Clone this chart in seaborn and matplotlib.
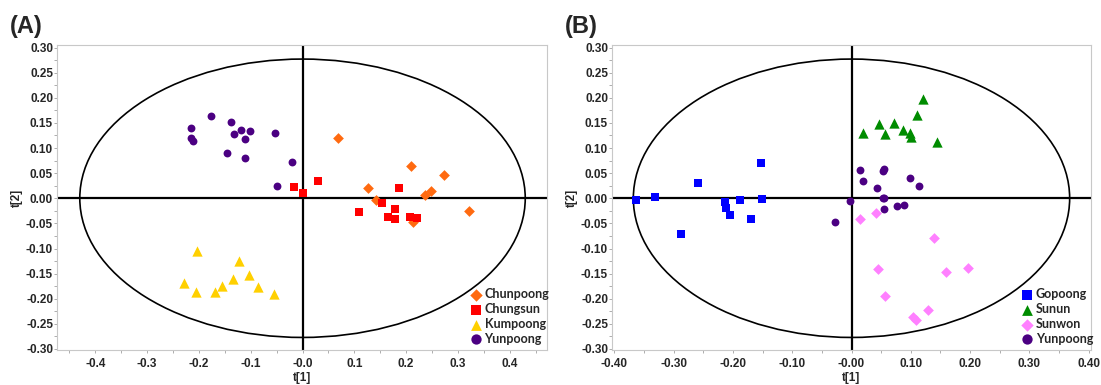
import pandas as pd
import numpy as np
import matplotlib
matplotlib.use("Agg")
import matplotlib.pyplot as plt
import seaborn as sns
from matplotlib.patches import Ellipse
from matplotlib.ticker import MultipleLocator, FixedLocator, FixedFormatter

# ---- panel A: scores t[1], t[2]
chunpoong_x = [0.069, 0.210, 0.274, 0.126, 0.142, 0.236, 0.249, 0.322, 0.214]
chunpoong_y = [0.120, 0.065, 0.046, 0.021, -0.004, 0.007, 0.015, -0.026, -0.047]

chungsun_x = [-0.016, 0.000, 0.029, 0.186, 0.153, 0.110, 0.179, 0.165, 0.178, 0.207, 0.221]
chungsun_y = [0.023, 0.011, 0.035, 0.021, -0.010, -0.027, -0.022, -0.038, -0.042, -0.037, -0.039]

kumpoong_x = [-0.203, -0.123, -0.228, -0.206, -0.168, -0.156, -0.134, -0.104, -0.085, -0.055]
kumpoong_y = [-0.104, -0.124, -0.168, -0.187, -0.186, -0.175, -0.161, -0.152, -0.177, -0.191]

yunpoong_a_x = [-0.176, -0.215, -0.215, -0.212, -0.138, -0.119, -0.101, -0.132, -0.111, -0.146,
                -0.111, -0.054, -0.020, -0.050]
yunpoong_a_y = [0.164, 0.139, 0.119, 0.113, 0.152, 0.136, 0.133, 0.127, 0.117, 0.091,
                0.080, 0.129, 0.072, 0.025]

# ---- panel B
gopoong_x = [-0.364, -0.332, -0.259, -0.288, -0.213, -0.211, -0.205, -0.188, -0.170, -0.153, -0.151]
gopoong_y = [-0.004, 0.003, 0.030, -0.071, -0.007, -0.020, -0.034, -0.003, -0.042, 0.070, -0.002]

sunun_x = [0.120, 0.111, 0.046, 0.072, 0.019, 0.057, 0.087, 0.099, 0.101, 0.144]
sunun_y = [0.198, 0.165, 0.148, 0.149, 0.129, 0.127, 0.136, 0.129, 0.122, 0.111]

sunwon_x = [0.015, 0.041, 0.140, 0.044, 0.159, 0.196, 0.057, 0.129, 0.104, 0.108]
sunwon_y = [-0.042, -0.029, -0.079, -0.140, -0.147, -0.139, -0.194, -0.222, -0.237, -0.242]

yunpoong_b_x = [0.014, 0.053, 0.055, 0.020, 0.099, 0.114, 0.043, 0.053, 0.055, -0.002,
                0.076, 0.088, 0.054, -0.028]
yunpoong_b_y = [0.057, 0.055, 0.059, 0.035, 0.040, 0.024, 0.020, 0.001, 0.001, -0.006,
                -0.015, -0.013, -0.022, -0.047]

y_ticks = [-0.30, -0.25, -0.20, -0.15, -0.10, -0.05, 0.00, 0.05, 0.10, 0.15, 0.20, 0.25, 0.30]
y_labels = ["-0.30", "-0.25", "-0.20", "-0.15", "-0.10", "-0.05", "0.00",
            "0.05", "0.10", "0.15", "0.20", "0.25", "0.30"]
xa_ticks = [-0.4, -0.3, -0.2, -0.1, 0.0, 0.1, 0.2, 0.3, 0.4]
xa_labels = ["-0.4", "-0.3", "-0.2", "-0.1", "-0.0", "0.1", "0.2", "0.3", "0.4"]
xb_ticks = [-0.40, -0.30, -0.20, -0.10, 0.00, 0.10, 0.20, 0.30, 0.40]
xb_labels = ["-0.40", "-0.30", "-0.20", "-0.10", "-0.00", "0.10", "0.20", "0.30", "0.40"]


def make_df(groups):
    frames = []
    for name, xs, ys in groups:
        frames.append(pd.DataFrame({"t1": xs, "t2": ys, "cultivar": name}))
    return pd.concat(frames, ignore_index=True)


df_a = make_df([("Chunpoong", chunpoong_x, chunpoong_y),
                ("Chungsun", chungsun_x, chungsun_y),
                ("Kumpoong", kumpoong_x, kumpoong_y),
                ("Yunpoong", yunpoong_a_x, yunpoong_a_y)])
df_b = make_df([("Gopoong", gopoong_x, gopoong_y),
                ("Sunun", sunun_x, sunun_y),
                ("Sunwon", sunwon_x, sunwon_y),
                ("Yunpoong", yunpoong_b_x, yunpoong_b_y)])

# marker, colour, size in plot, size in legend
style = {
    "Chunpoong": ("D", "#FF6A10", 30, 40),
    "Chungsun": ("s", "#FF0000", 30, 50),
    "Kumpoong": ("^", "#FFD000", 55, 60),
    "Yunpoong": ("o", "#4B0082", 32, 55),
    "Gopoong": ("s", "#0000FF", 30, 50),
    "Sunun": ("^", "#008C00", 55, 60),
    "Sunwon": ("D", "#FF80FF", 30, 40),
}

sns.set_style("white")
plt.rcParams["font.family"] = ["Liberation Sans", "DejaVu Sans"]

fig = plt.figure(figsize=(11.01, 3.85), dpi=100)
ax_a = fig.add_axes([57 / 1101, 35 / 385, 490 / 1101, 305 / 385])
ax_b = fig.add_axes([612 / 1101, 35 / 385, 479 / 1101, 305 / 385])


def draw_panel(ax, df, xlim, ell_w, xticks, xlabels, xminor):
    ax.add_patch(Ellipse((0, 0), 2 * ell_w, 2 * 0.277, fill=False, color="black", lw=1.2, zorder=1))
    ax.axhline(0, color="black", lw=1.6, zorder=1)
    ax.axvline(0, color="black", lw=1.6, zorder=1)
    names = list(df["cultivar"].unique())
    for name in names:
        m, c, s, _ = style[name]
        sns.scatterplot(data=df[df["cultivar"] == name], x="t1", y="t2", ax=ax,
                        marker=m, color=c, s=s, linewidth=0,
                        label=name, zorder=3)
    ax.set_xlim(*xlim)
    ax.set_ylim(-0.302, 0.305)
    ax.xaxis.set_major_locator(FixedLocator(xticks))
    ax.xaxis.set_major_formatter(FixedFormatter(xlabels))
    ax.yaxis.set_major_locator(FixedLocator(y_ticks))
    ax.yaxis.set_major_formatter(FixedFormatter(y_labels))
    ax.xaxis.set_minor_locator(MultipleLocator(xminor))
    ax.yaxis.set_minor_locator(MultipleLocator(0.025))
    ax.tick_params(which="both", direction="out", length=2, width=0.6, color="#a0a0a0",
                   bottom=True, left=True, labelsize=8.5)
    ax.tick_params(axis="x", pad=4)
    ax.tick_params(axis="y", pad=0.8)
    for lab in ax.get_xticklabels() + ax.get_yticklabels():
        lab.set_fontweight("bold")
    for sp in ax.spines.values():
        sp.set_color("#c8c8c8")
        sp.set_linewidth(0.8)
    ax.set_xlabel("t[1]", fontsize=8.5, fontweight="bold", labelpad=1)
    ax.set_ylabel("t[2]", fontsize=8.5, fontweight="bold", labelpad=2.5)
    leg = ax.legend(loc="lower right", bbox_to_anchor=(1.025, -0.015), frameon=False,
                    prop={"family": "Lato", "weight": "bold", "size": 9},
                    handletextpad=0.15, labelspacing=0.22, handlelength=1.1, borderpad=0.3)
    for h, name in zip(leg.legend_handles, names):
        h.set_sizes([style[name][3]])


draw_panel(ax_a, df_a, (-0.474, 0.472), 0.43, xa_ticks, xa_labels, 0.05)
draw_panel(ax_b, df_b, (-0.404, 0.404), 0.368, xb_ticks, xb_labels, 0.05)

fig.text(10 / 1101, 1 - 26 / 385, "(A)", fontsize=17, fontweight="bold", va="center", ha="left")
fig.text(565 / 1101, 1 - 26 / 385, "(B)", fontsize=17, fontweight="bold", va="center", ha="left")

fig.savefig("out.png", dpi=100)
